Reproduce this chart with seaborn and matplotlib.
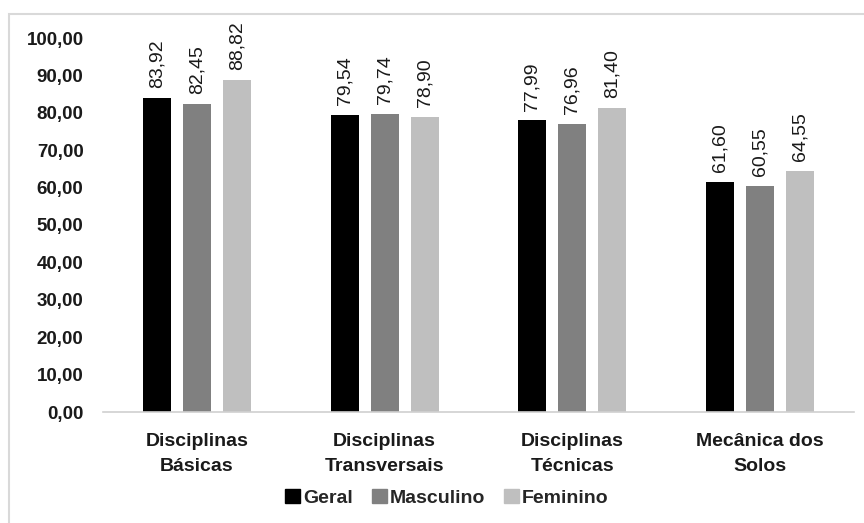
import matplotlib
matplotlib.use("Agg")
import matplotlib.pyplot as plt
from matplotlib.patches import Rectangle
import seaborn as sns
import pandas as pd

categories = ["Disciplinas\nBásicas", "Disciplinas\nTransversais",
              "Disciplinas\nTécnicas", "Mecânica dos\nSolos"]
series = ["Geral", "Masculino", "Feminino"]
geral = [83.92, 79.54, 77.99, 61.60]
masculino = [82.45, 79.74, 76.96, 60.55]
feminino = [88.82, 78.90, 81.40, 64.55]
yticks = [0, 10, 20, 30, 40, 50, 60, 70, 80, 90, 100]
colors = ["#000000", "#808080", "#bfbfbf"]

rows = []
for name, vals in zip(series, [geral, masculino, feminino]):
    for cat, v in zip(categories, vals):
        rows.append({"categoria": cat, "grupo": name, "valor": v})
df = pd.DataFrame(rows)

sns.set_theme(style="white")
plt.rcParams["font.family"] = ["Liberation Sans", "DejaVu Sans"]

fig = plt.figure(figsize=(8.64, 5.23), dpi=100)
ax = fig.add_axes([103 / 864, 111 / 523, (854 - 103) / 864, (485 - 111) / 523])

sns.barplot(data=df, x="categoria", y="valor", hue="grupo",
            hue_order=series, palette=colors, width=0.64, gap=0.3,
            saturation=1, ax=ax, legend=False, edgecolor="none")

fmt = lambda v: f"{v:.2f}".replace(".", ",")
for container in ax.containers:
    ax.bar_label(container, labels=[fmt(b.get_height()) for b in container],
                 rotation=90, padding=7, fontsize=14, color="#1a1a1a")

ax.set_ylim(0, 100)
ax.set_xlim(-0.5, 3.5)
ax.set_yticks(yticks)
ax.set_yticklabels([fmt(t) for t in yticks], fontsize=13.5,
                   fontweight="bold", color="#1a1a1a")
ax.set_xticklabels(categories, fontsize=14, fontweight="bold",
                   color="#1a1a1a", linespacing=1.65)
ax.tick_params(axis="y", length=0, pad=14)
ax.tick_params(axis="x", length=0, pad=15)
ax.set_xlabel("")
ax.set_ylabel("")
for side in ["top", "right", "left"]:
    ax.spines[side].set_visible(False)
ax.spines["bottom"].set_color("#d0d0d0")
ax.spines["bottom"].set_linewidth(1.2)

handles = [Rectangle((0, 0), 1, 1, color=c) for c in colors]
fig.legend(handles, series, loc="center", bbox_to_anchor=(447 / 864, 1 - 498 / 523),
           ncol=3, frameon=False, handlelength=0.75, handleheight=0.75,
           handletextpad=0.15, columnspacing=1.0,
           prop={"weight": "bold", "size": 14})

fig.patches.append(Rectangle((9 / 864, -0.05), 1.2, 1 - 14 / 523 + 0.05,
                             transform=fig.transFigure, fill=False,
                             edgecolor="#d9d9d9", linewidth=1.5))

fig.savefig("out.png", dpi=100)
